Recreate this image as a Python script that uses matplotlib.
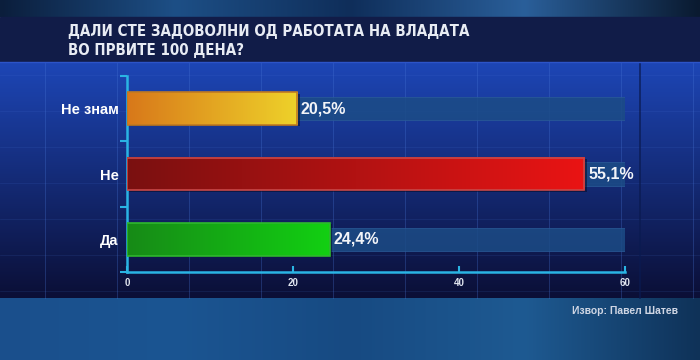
import numpy as np
import matplotlib.pyplot as plt
from matplotlib.colors import LinearSegmentedColormap
from matplotlib.patches import Rectangle
from matplotlib import font_manager

categories = ['Да', 'Не', 'Не знам']
values = [24.4, 55.1, 20.5]
labels = ['24,4%', '55,1%', '20,5%']
bar_colors = [('#178a17', '#12d012'), ('#7a1010', '#ea1414'), ('#d8781a', '#eed22a')]
edge_colors = ['#2fb82f', '#c84848', '#c07a22']
x_ticks = [0, 20, 40, 60]
title = 'ДАЛИ СТЕ ЗАДОВОЛНИ ОД РАБОТАТА НА ВЛАДАТА\nВО ПРВИТЕ 100 ДЕНА?'
source = 'Извор: Павел Шатев'

# look for a condensed face for the title
fonts = font_manager.fontManager.ttflist
title_font = dict(family='Liberation Sans', fontweight='normal', fontsize=11)
if any(f.name == 'Liberation Sans Narrow' for f in fonts):
    title_font = dict(family='Liberation Sans Narrow', fontweight='bold', fontsize=12)
elif any(f.name == 'DejaVu Sans' and f.stretch == 'condensed' for f in fonts):
    title_font = dict(family='DejaVu Sans', fontstretch='condensed', fontweight='bold', fontsize=10.8)

W, H = 700, 360
fig = plt.figure(figsize=(7, 3.6), dpi=100)

# background drawn in pixel coordinates
bg = fig.add_axes([0, 0, 1, 1])
bg.set_xlim(0, W)
bg.set_ylim(H, 0)
bg.axis('off')

def vgrad(ax, x0, x1, y0, y1, c0, c1, z=0):
    cm = LinearSegmentedColormap.from_list('g', [c0, c1])
    ax.imshow(np.linspace(0, 1, 256).reshape(-1, 1), cmap=cm, aspect='auto',
              extent=[x0, x1, y1, y0], zorder=z, interpolation='bicubic')

def hgrad(ax, x0, x1, y0, y1, cols, z=0):
    cm = LinearSegmentedColormap.from_list('g', cols)
    ax.imshow(np.linspace(0, 1, 256).reshape(1, -1), cmap=cm, aspect='auto',
              extent=[x0, x1, y1, y0], zorder=z, interpolation='bicubic')

# photo-like background top and bottom
hgrad(bg, 0, W, 0, 17, ['#0b1e3c', '#1d4f86', '#0f2e5a', '#2a5f9a', '#0a1a30'], z=0)
hgrad(bg, 0, W, 298, H, ['#1a4f8c', '#1b5592', '#174a82', '#1e5a92', '#0f3258'], z=0)
# title band
bg.add_patch(Rectangle((0, 17), W, 45, color='#111c48', zorder=1))
# chart panel
vgrad(bg, 0, W, 62, 298, '#1d46b6', '#0b0f36', z=1)
for gx in np.arange(45, W, 72):
    bg.plot([gx, gx], [62, 298], color='#4a78d8', lw=0.6, alpha=0.35, zorder=2)
for gy in np.arange(75, 298, 36):
    bg.plot([0, W], [gy, gy], color='#4a78d8', lw=0.5, alpha=0.18, zorder=2)
bg.plot([640, 640], [62, 298], color='#0a1a50', lw=1.2, alpha=0.8, zorder=2)
bg.plot([0, W], [62, 62], color='#2c54c8', lw=1.0, zorder=2)

fig.text(68 / W, 1 - 41 / H, title, color='#e8ecf4', va='center', ha='left',
         linespacing=1.35, **title_font)
fig.text(678 / W, 1 - 311 / H, source, color='#cfd6e4', fontsize=7.5,
         family='Liberation Sans', fontweight='bold', ha='right', va='center')

# main chart
ax = fig.add_axes([127 / W, 88 / H, 498 / W, 196 / H])
ax.patch.set_alpha(0)
y = np.arange(len(categories))

for i, v in enumerate(values):
    # track
    ax.add_patch(Rectangle((0, y[i] - 0.18), 60, 0.36, facecolor='#1c4c86',
                           edgecolor='#2a5c98', lw=0.6, alpha=0.85, zorder=2))
    # shadow
    ax.add_patch(Rectangle((0.3, y[i] - 0.27), v, 0.5, facecolor='#050a20',
                           alpha=0.5, zorder=3))
    cm = LinearSegmentedColormap.from_list('b', bar_colors[i])
    ax.imshow(np.linspace(0, 1, 256).reshape(1, -1), cmap=cm, aspect='auto',
              extent=[0, v, y[i] - 0.25, y[i] + 0.25], zorder=4)
    ax.add_patch(Rectangle((0, y[i] - 0.25), v, 0.5, facecolor='none',
                           edgecolor=edge_colors[i], lw=1.2, zorder=5))
    ax.text(v + 0.45, y[i], labels[i], color='#f2f4f8', fontsize=11.5,
            fontweight='bold', family='Liberation Sans', va='center', ha='left', zorder=6)

ax.set_xlim(0, 60)
ax.set_ylim(-0.5, 2.5)
ax.set_yticks(y)
ax.set_yticklabels(categories, color='white', fontsize=10.5, fontweight='bold',
                   family='Liberation Sans')
ax.set_yticks([-0.5, 0.5, 1.5, 2.5], minor=True)
ax.tick_params(axis='y', which='major', length=0, pad=6)
ax.tick_params(axis='y', which='minor', length=5, width=1.5, color='#2ab4e4', direction='out')
ax.set_xticks(x_ticks)
ax.set_xticklabels([str(t) for t in x_ticks], color='#dfe4ee', fontsize=7,
                   fontweight='bold', family='Liberation Sans')
ax.tick_params(axis='x', length=4, width=1.5, color='#2ab4e4', direction='in', pad=4)
for s in ['top', 'right']:
    ax.spines[s].set_visible(False)
for s in ['left', 'bottom']:
    ax.spines[s].set_color('#2ab4e4')
    ax.spines[s].set_linewidth(1.8)

fig.savefig('out.png', dpi=100)
